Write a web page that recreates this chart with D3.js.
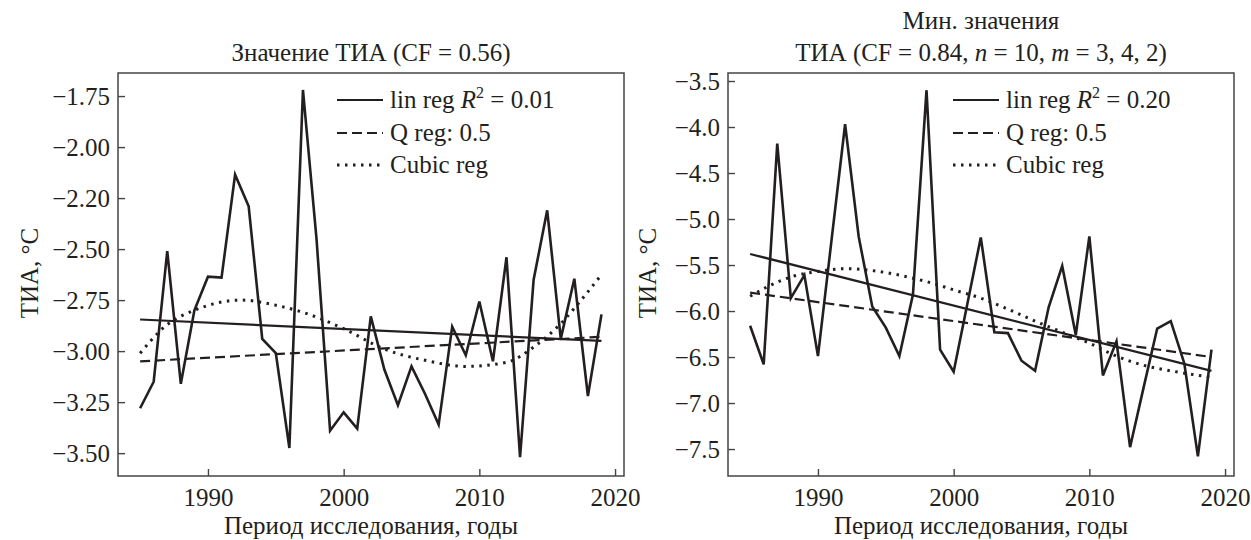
<!DOCTYPE html>
<html>
<head>
  <meta charset="utf-8">
  <script src="https://d3js.org/d3.v7.min.js"></script>
  <style>
    body { margin: 0; background: #fff; }
  </style>
</head>
<body>
<script>
var FONT = "Liberation Serif";

// years of the study period
var years = [1985, 1986, 1987, 1988, 1989, 1990, 1991, 1992, 1993, 1994,
             1995, 1996, 1997, 1998, 1999, 2000, 2001, 2002, 2003, 2004,
             2005, 2006, 2007, 2008, 2009, 2010, 2011, 2012, 2013, 2014,
             2015, 2016, 2017, 2018, 2019];

// left panel: TIA value
var tiaValues = [-3.28, -3.15, -2.51, -3.16, -2.80, -2.635, -2.64, -2.135, -2.29, -2.94,
                 -3.01, -3.475, -1.72, -2.45, -3.39, -3.30, -3.38, -2.83, -3.09, -3.265,
                 -3.075, -3.21, -3.36, -2.88, -3.02, -2.757, -3.05, -2.54, -3.52, -2.65,
                 -2.31, -2.94, -2.645, -3.22, -2.82];

// right panel: minimal TIA values
var tiaMinValues = [-6.16, -6.58, -4.18, -5.86, -5.61, -6.49, -5.23, -3.97, -5.19, -5.95,
                    -6.18, -6.49, -5.82, -3.60, -6.42, -6.66, -5.93, -5.20, -6.23, -6.24,
                    -6.54, -6.65, -5.96, -5.51, -6.26, -5.19, -6.70, -6.33, -7.48, -6.83,
                    -6.19, -6.11, -6.57, -7.58, -6.42];

// regression lines (end points)
var regYears = [1985, 2019];
var linRegLeft = [-2.845, -2.95];
var qRegLeft = [-3.05, -2.93];
var linRegRight = [-5.38, -6.65];
var qRegRight = [-5.80, -6.50];

// cubic regression
var cubicYearsLeft = [1985, 1987, 1989, 1992.5, 1995, 1997, 2000, 2003, 2006, 2009, 2012, 2014, 2016, 2017.5, 2019];
var cubicLeft = [-3.01, -2.87, -2.80, -2.75, -2.775, -2.81, -2.89, -2.99, -3.045, -3.075, -3.055, -2.98, -2.865, -2.75, -2.625];
var cubicYearsRight = [1985, 1986.5, 1988, 1990, 1992, 1994, 1996, 1998, 2000, 2002, 2004, 2006, 2008, 2010, 2012, 2014, 2016, 2019];
var cubicRight = [-5.84, -5.72, -5.63, -5.57, -5.54, -5.56, -5.61, -5.68, -5.77, -5.86, -5.98, -6.11, -6.23, -6.35, -6.49, -6.59, -6.65, -6.72];

// ticks
var xTicks = [1990, 2000, 2010, 2020];
var yTicksLeft = [-1.75, -2.00, -2.25, -2.50, -2.75, -3.00, -3.25, -3.50];
var yTickLabelsLeft = ["\u22121.75", "\u22122.00", "\u22122.20", "\u22122.50", "\u22122.75", "\u22123.00", "\u22123.25", "\u22123.50"];
var yTicksRight = [-3.5, -4.0, -4.5, -5.0, -5.5, -6.0, -6.5, -7.0, -7.5];
var yTickLabelsRight = ["\u22123.5", "\u22124.0", "\u22124.5", "\u22125.0", "\u22125.5", "\u22126.0", "\u22126.5", "\u22127.0", "\u22127.5"];

var r2Left = "0.01", r2Right = "0.20";

var width = 1251, height = 540;
var svg = d3.select("body").append("svg")
    .attr("width", width)
    .attr("height", height)
    .attr("font-family", FONT);

function label(g) {
  return g.append("text").attr("font-family", FONT).attr("font-size", 25).attr("fill", "#231f20");
}

function drawPanel(p) {
  var x = d3.scaleLinear().domain([1983.37, 2020.66]).range([p.left, p.right]);
  var y = d3.scaleLinear().domain(p.yDomain).range([73, 476]);
  var g = svg.append("g");

  // axes, ticks point inward
  var ax = g.append("g")
      .attr("transform", "translate(0,476)")
      .call(d3.axisBottom(x).tickValues(xTicks).tickFormat(d3.format("d"))
        .tickSizeInner(-7).tickSizeOuter(0).tickPadding(12));
  var ay = g.append("g")
      .attr("transform", "translate(" + p.left + ",0)")
      .call(d3.axisLeft(y).tickValues(p.yTicks)
        .tickFormat(function(d, i) { return p.yLabels[i]; })
        .tickSizeInner(-7).tickSizeOuter(0).tickPadding(8));
  [ax, ay].forEach(function(a) {
    a.attr("font-family", FONT).attr("font-size", 25);
    a.select(".domain").remove();
    a.selectAll(".tick line").attr("stroke", "#444").attr("stroke-width", 1.4);
    a.selectAll(".tick text").attr("font-family", FONT).attr("fill", "#231f20");
  });

  g.append("rect")
      .attr("x", p.left).attr("y", 73)
      .attr("width", p.right - p.left).attr("height", 476 - 73)
      .attr("fill", "none").attr("stroke", "#444").attr("stroke-width", 1.5);

  var line = d3.line().x(function(d) { return x(d[0]); }).y(function(d) { return y(d[1]); });

  g.append("path")
      .datum(d3.zip(years, p.values))
      .attr("d", line)
      .attr("fill", "none").attr("stroke", "#231f20").attr("stroke-width", 2.6);

  g.append("path")
      .datum(d3.zip(regYears, p.lin))
      .attr("d", line)
      .attr("fill", "none").attr("stroke", "#231f20").attr("stroke-width", 2.2);

  g.append("path")
      .datum(d3.zip(regYears, p.q))
      .attr("d", line)
      .attr("fill", "none").attr("stroke", "#231f20").attr("stroke-width", 2.2)
      .attr("stroke-dasharray", "10,5");

  g.append("path")
      .datum(d3.zip(p.cubicYears, p.cubic))
      .attr("d", line.curve(d3.curveMonotoneX))
      .attr("fill", "none").attr("stroke", "#231f20").attr("stroke-width", 3)
      .attr("stroke-dasharray", "2.5,5.5");

  // legend
  var rows = [
    { dash: null, width: 2.2 },
    { dash: "10,5", width: 2.2 },
    { dash: "2.5,5.5", width: 3 }
  ];
  var rowY = [100, 133, 165];
  rows.forEach(function(r, i) {
    g.append("line")
        .attr("x1", p.legendX).attr("x2", p.legendX + 46)
        .attr("y1", rowY[i]).attr("y2", rowY[i])
        .attr("stroke", "#231f20").attr("stroke-width", r.width)
        .attr("stroke-dasharray", r.dash);
  });
  var t0 = label(g).attr("x", p.legendX + 53).attr("y", rowY[0] + 8);
  t0.append("tspan").text("lin reg ");
  t0.append("tspan").attr("font-style", "italic").text("R");
  t0.append("tspan").attr("font-size", 16).attr("dy", -10).text("2");
  t0.append("tspan").attr("dy", 10).text(" = " + p.r2);
  label(g).attr("x", p.legendX + 53).attr("y", rowY[1] + 8).text("Q reg: 0.5");
  label(g).attr("x", p.legendX + 53).attr("y", rowY[2] + 8).text("Cubic reg");

  // axis titles
  var cx = (p.left + p.right) / 2;
  label(g).attr("x", cx).attr("y", 534).attr("text-anchor", "middle")
      .text("Период исследования, годы");
  label(g)
      .attr("transform", "translate(" + (p.left - p.yTitleOffset) + ",273) rotate(-90)")
      .attr("text-anchor", "middle").text("ТИА, °C");

  p.title(g, cx);
}

drawPanel({
  left: 118, right: 624,
  yDomain: [-1.637, -3.612],
  yTicks: yTicksLeft, yLabels: yTickLabelsLeft, yTitleOffset: 80,
  values: tiaValues, lin: linRegLeft, q: qRegLeft,
  cubicYears: cubicYearsLeft, cubic: cubicLeft,
  legendX: 337, r2: r2Left,
  title: function(g, cx) {
    label(g).attr("x", cx).attr("y", 61).attr("text-anchor", "middle")
        .text("Значение ТИА (CF = 0.56)");
  }
});

drawPanel({
  left: 728, right: 1234,
  yDomain: [-3.413, -7.793],
  yTicks: yTicksRight, yLabels: yTickLabelsRight, yTitleOffset: 72,
  values: tiaMinValues, lin: linRegRight, q: qRegRight,
  cubicYears: cubicYearsRight, cubic: cubicRight,
  legendX: 953, r2: r2Right,
  title: function(g, cx) {
    label(g).attr("x", cx).attr("y", 29).attr("text-anchor", "middle")
        .text("Мин. значения");
    var t = label(g).attr("x", cx).attr("y", 61).attr("text-anchor", "middle");
    t.append("tspan").text("ТИА (CF = 0.84, ");
    t.append("tspan").attr("font-style", "italic").text("n");
    t.append("tspan").text(" = 10, ");
    t.append("tspan").attr("font-style", "italic").text("m");
    t.append("tspan").text(" = 3, 4, 2)");
  }
});
</script>
</body>
</html>
